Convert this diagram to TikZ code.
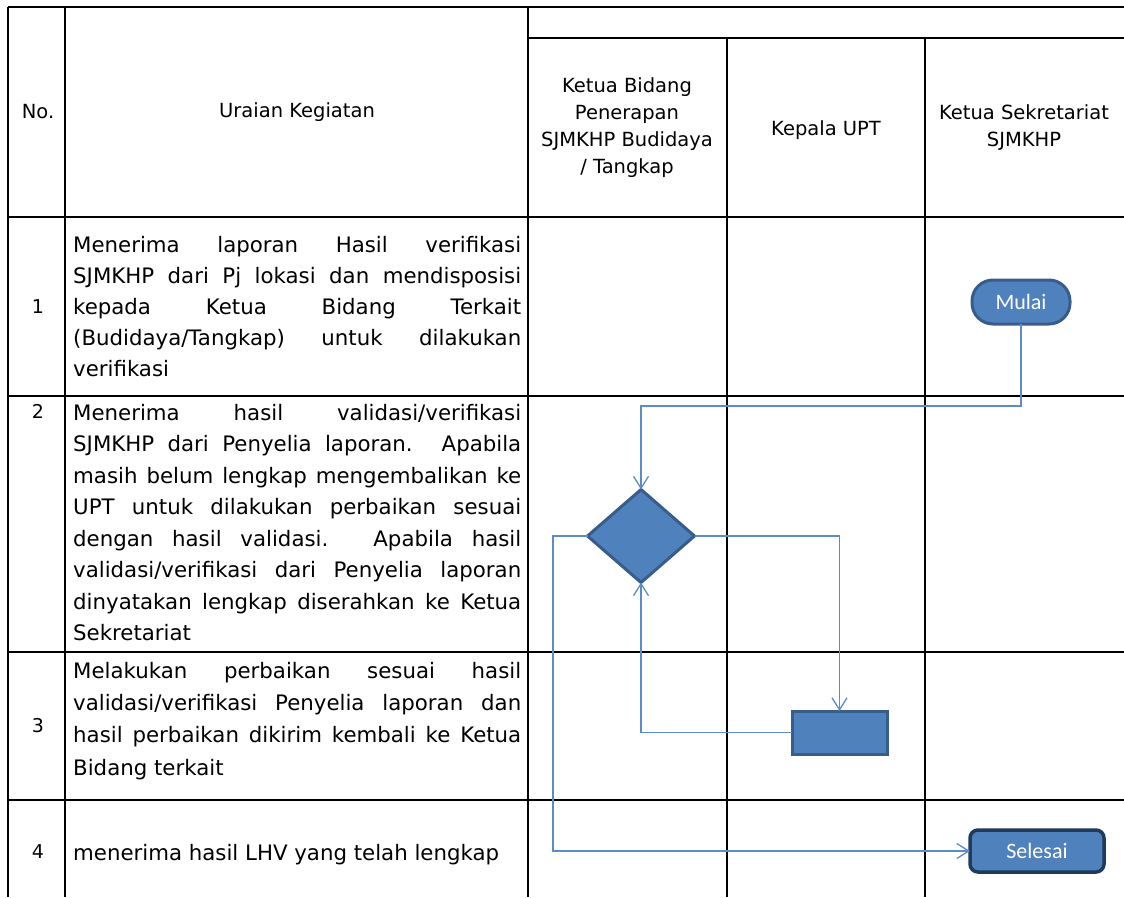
\documentclass[tikz,border=0pt]{standalone}
\usepackage{fontspec}
\setmainfont{DejaVu Sans}
\newfontfamily\shapefont{Carlito}
\usetikzlibrary{shapes.geometric,arrows.meta}
\definecolor{fillblue}{HTML}{4F81BD}
\definecolor{edgeblue}{HTML}{385D8A}
\definecolor{darkedge}{HTML}{1F3A5C}
\definecolor{linkblue}{HTML}{5B8BC9}
\newcommand{\jline}[1]{\makebox[448pt][s]{#1}}
\tikzset{
  grid/.style={line width=2.8pt, draw=black},
  body/.style={font=\fontsize{21.3}{25}\selectfont, inner sep=0pt, anchor=base west},
  num/.style={font=\fontsize{19}{22}\selectfont, inner sep=0pt, anchor=base},
  head/.style={font=\fontsize{19.5}{27}\selectfont, align=center, inner sep=0pt},
  conn/.style={draw=linkblue, line width=1.3pt},
  tip/.style={-{Straight Barb[length=12pt,width=15pt]}},
  startstop/.style={draw=edgeblue, fill=fillblue, line width=3pt, rounded corners=21pt,
    minimum width=98pt, minimum height=44pt, inner sep=0pt, outer sep=0pt,
    text=white, font=\shapefont\fontsize{22}{24}\selectfont},
  endbox/.style={draw=darkedge, fill=fillblue, line width=3.5pt, rounded corners=8pt,
    minimum width=134pt, minimum height=42pt, inner sep=0pt, outer sep=0pt,
    text=white, font=\shapefont\fontsize{22}{24}\selectfont},
  decision/.style={diamond, draw=edgeblue, fill=fillblue, line width=3pt,
    minimum width=107pt, minimum height=93pt, inner sep=0pt, outer sep=0pt},
  process/.style={rectangle, draw=edgeblue, fill=fillblue, line width=3pt,
    minimum width=95pt, minimum height=43pt, inner sep=0pt, outer sep=0pt}
}
\begin{document}
\begin{tikzpicture}[x=1pt,y=-1pt]
\useasboundingbox (0,0) rectangle (1124,897);
\fill[white] (0,0) rectangle (1124,897);

% table grid
\draw[grid] (8,7) -- (1124,7);
\draw[grid] (528,38) -- (1124,38);
\draw[grid] (8,217) -- (1124,217);
\draw[grid] (8,396) -- (1124,396);
\draw[grid] (8,652) -- (1124,652);
\draw[grid] (8,800) -- (1124,800);
\draw[grid] (8,7) -- (8,897);
\draw[grid] (65,7) -- (65,897);
\draw[grid] (528,7) -- (528,897);
\draw[grid] (727,38) -- (727,897);
\draw[grid] (925,38) -- (925,897);

% header
\node[head] (hno) at (38,112) {No.};
\node[head] (hur) at (297,112) {Uraian Kegiatan};
\node[head] (hl1) at (627,128) {Ketua Bidang\\Penerapan\\SJMKHP Budidaya\\/ Tangkap};
\node[head] (hl2) at (826,130) {Kepala UPT};
\node[head] (hl3) at (1024,128) {Ketua Sekretariat\\SJMKHP};

% numbers
\node[num] (n1) at (38,313) {1};
\node[num] (n2) at (38,418) {2};
\node[num] (n3) at (38,732) {3};
\node[num] (n4) at (38,858) {4};

% row 1
\node[body] (r1a) at (73,252) {\jline{Menerima laporan Hasil verifikasi}};
\node[body] (r1b) at (73,283) {\jline{SJMKHP dari Pj lokasi dan mendisposisi}};
\node[body] (r1c) at (73,314) {\jline{kepada Ketua Bidang Terkait}};
\node[body] (r1d) at (73,345) {\jline{(Budidaya/Tangkap) untuk dilakukan}};
\node[body] (r1e) at (73,376) {verifikasi};

% row 2
\node[body] (r2a) at (73,420) {\jline{Menerima hasil validasi/verifikasi}};
\node[body] (r2b) at (73,451.5) {\jline{SJMKHP dari Penyelia laporan. Apabila}};
\node[body] (r2c) at (73,483) {\jline{masih belum lengkap mengembalikan ke}};
\node[body] (r2d) at (73,514.5) {\jline{UPT untuk dilakukan perbaikan sesuai}};
\node[body] (r2e) at (73,546) {\jline{dengan hasil validasi. Apabila hasil}};
\node[body] (r2f) at (73,577.5) {\jline{validasi/verifikasi dari Penyelia laporan}};
\node[body] (r2g) at (73,609) {\jline{dinyatakan lengkap diserahkan ke Ketua}};
\node[body] (r2h) at (73,640.5) {Sekretariat};

% row 3
\node[body] (r3a) at (73,678) {\jline{Melakukan perbaikan sesuai hasil}};
\node[body] (r3b) at (73,710) {\jline{validasi/verifikasi Penyelia laporan dan}};
\node[body] (r3c) at (73,742) {\jline{hasil perbaikan dikirim kembali ke Ketua}};
\node[body] (r3d) at (73,775) {Bidang terkait};

% row 4
\node[body] (r4a) at (73,860) {menerima hasil LHV yang telah lengkap};

% flow shapes
\node[startstop] (mulai) at (1021,302) {Mulai};
\node[decision] (dia) at (641,536) {};
\node[process] (box) at (839.5,732.5) {};
\node[endbox] (selesai) at (1037,851) {Selesai};

% connectors
\coordinate (k1) at (641,406);
\coordinate (k2) at (553,851);
\draw[conn,tip] (mulai.south) |- (k1) -- (dia.north);
\draw[conn,tip] (dia.east) -| (box.north);
\draw[conn,tip] (box.west) -| (dia.south);
\draw[conn,tip] (dia.west) -| (k2) -- (selesai.west);
\end{tikzpicture}
\end{document}
